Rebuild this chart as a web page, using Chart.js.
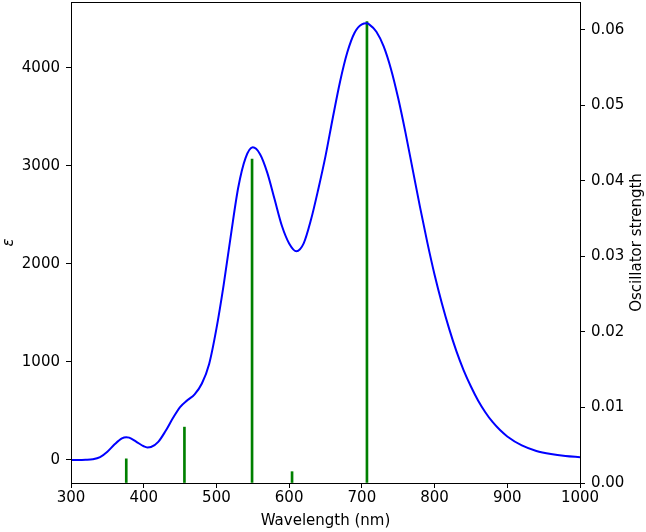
<!DOCTYPE html>
<html>
<head>
<meta charset="utf-8">
<script src="https://cdn.jsdelivr.net/npm/chart.js@4/dist/chart.umd.min.js"></script>
<style>
  html, body { margin: 0; padding: 0; background: #fff; }
  #wrap { width: 646px; height: 532px; position: relative; }
</style>
</head>
<body>
<div id="wrap"><canvas id="spectrum"></canvas></div>
<script>
// absorption spectrum (nm, epsilon)
const wavelengths = [300, 310, 320, 330, 340, 350, 360, 370, 376, 380, 390, 400, 405, 410, 420, 430, 440, 450,
  460, 470, 480, 490, 500, 510, 520, 530, 540, 550, 560, 570, 580, 590, 600, 610, 620, 630, 640, 650, 660,
  670, 680, 690, 700, 707, 710, 720, 730, 740, 750, 760, 770, 780, 790, 800, 810, 820, 830, 840, 850, 860,
  870, 880, 890, 900, 920, 940, 960, 980, 1000];
const epsilon = [0, 0, 2, 8, 30, 85, 160, 220, 232, 228, 185, 140, 128, 132, 185, 295, 425, 540,
  610, 670, 780, 980, 1340, 1790, 2300, 2780, 3080, 3190, 3120, 2930, 2660, 2390, 2210, 2130, 2210, 2450, 2760, 3100, 3490,
  3860, 4160, 4360, 4445, 4455, 4445, 4370, 4220, 3990, 3690, 3340, 2960, 2580, 2220, 1890, 1600, 1340, 1110, 915, 750, 605,
  485, 385, 305, 240, 148, 92, 60, 40, 28];

// computed transitions (nm, oscillator strength)
const stickWavelengths = [376, 456, 549, 604, 707];
const stickStrengths = [0.0032, 0.0074, 0.0429, 0.0015, 0.0611];

const xTicks = [300, 400, 500, 600, 700, 800, 900, 1000];
const epsTicks = [0, 1000, 2000, 3000, 4000];
const fTicks = [0, 0.01, 0.02, 0.03, 0.04, 0.05, 0.06];

const FONT = { family: "'DejaVu Sans', sans-serif", size: 15 };
const INK = '#000';

const frame = {
  id: 'frame',
  afterDraw(chart) {
    const { ctx, chartArea: a } = chart;
    ctx.save();
    ctx.strokeStyle = INK;
    ctx.lineWidth = 1;
    ctx.strokeRect(Math.round(a.left) + 0.5, Math.round(a.top) + 0.5,
      Math.round(a.right - a.left), Math.round(a.bottom - a.top));
    // right axis label, reads bottom to top like the left one
    ctx.fillStyle = INK;
    ctx.font = `15px ${FONT.family}`;
    ctx.textAlign = 'center';
    ctx.textBaseline = 'middle';
    ctx.translate(637, (a.top + a.bottom) / 2);
    ctx.rotate(-Math.PI / 2);
    ctx.fillText('Oscillator strength', 0, 0);
    ctx.restore();
  },
};

const tickGrid = { drawOnChartArea: false, drawTicks: true, tickLength: 5, color: INK, offset: false };

new Chart(document.getElementById('spectrum'), {
  type: 'line',
  data: {
    datasets: [
      {
        type: 'line', label: 'epsilon', yAxisID: 'y',
        data: wavelengths.map((w, i) => ({ x: w, y: epsilon[i] })),
        borderColor: '#0000ff', borderWidth: 2, pointRadius: 0,
        cubicInterpolationMode: 'monotone', fill: false,
      },
      {
        type: 'bar', label: 'f', yAxisID: 'y2',
        data: stickWavelengths.map((w, i) => ({ x: w, y: stickStrengths[i] })),
        backgroundColor: '#008000', borderWidth: 0, barThickness: 2,
      },
    ],
  },
  options: {
    responsive: true, maintainAspectRatio: false, animation: false,
    layout: { padding: { top: 2, left: 0, right: 0, bottom: 0 } },
    plugins: { legend: { display: false }, tooltip: { enabled: false } },
    scales: {
      x: {
        type: 'linear', min: 300, max: 1000, offset: false,
        afterBuildTicks: s => { s.ticks = xTicks.map(v => ({ value: v })); },
        afterFit: s => { s.height = 49; s.paddingLeft = 0; s.paddingRight = 0; },
        grid: tickGrid, border: { display: true, color: INK, width: 1 },
        ticks: { color: INK, font: FONT, padding: 1, maxRotation: 0, callback: v => String(v) },
        title: { display: true, text: 'Wavelength (nm)', color: INK, font: FONT, padding: { top: 0, bottom: 2 } },
      },
      y: {
        position: 'left', min: -235, max: 4673,
        afterBuildTicks: s => { s.ticks = epsTicks.map(v => ({ value: v })); },
        afterFit: s => { s.width = 71; s.paddingTop = 0; s.paddingBottom = 0; },
        grid: tickGrid, border: { display: true, color: INK, width: 1 },
        ticks: { color: INK, font: FONT, padding: 6, callback: v => String(v) },
        title: { display: true, text: 'ε', color: INK, font: { ...FONT, style: 'italic' }, padding: { top: 0, bottom: 0 } },
      },
      y2: {
        position: 'right', min: 0, max: 0.0637,
        afterBuildTicks: s => { s.ticks = fTicks.map(v => ({ value: v })); },
        afterFit: s => { s.width = 66; s.paddingTop = 0; s.paddingBottom = 0; },
        grid: tickGrid, border: { display: true, color: INK, width: 1 },
        ticks: { color: INK, font: FONT, padding: 6, callback: v => v.toFixed(2) },
      },
    },
  },
  plugins: [frame],
});
</script>
</body>
</html>
